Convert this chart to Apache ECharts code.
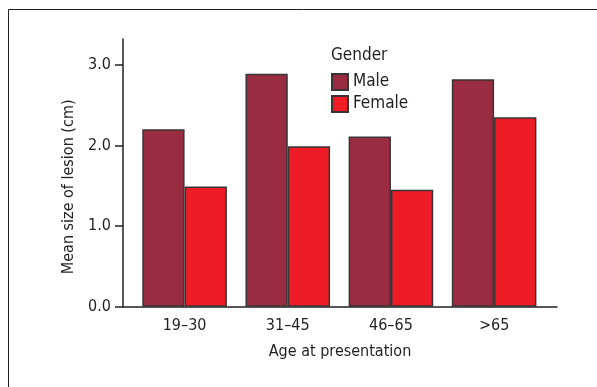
<!DOCTYPE html>
<html>
<head>
<meta charset="utf-8">
<script src="https://cdn.jsdelivr.net/npm/echarts@6/dist/echarts.min.js"></script>
<style>
  html, body { margin: 0; padding: 0; background: #fff; }
  #main { width: 597px; height: 387px; }
</style>
</head>
<body>
<div id="main"></div>
<script>
var categories = ['19\u201330', '31\u201345', '46\u201365', '>65'];
var maleValues = [2.20, 2.89, 2.11, 2.82];
var femaleValues = [1.49, 1.99, 1.45, 2.35];
var yTicks = [0, 1, 2, 3];

var font = "'Liberation Sans Narrow', 'DejaVu Sans Condensed', sans-serif";
var ink = '#231f20';

var options = {
    animation: false,
    title: {
        text: 'Gender',
        left: 331,
        top: 47,
        padding: 0,
        textStyle: { fontFamily: font, fontSize: 17, fontWeight: 'normal', color: ink }
    },
    legend: {
        data: ['Male', 'Female'],
        orient: 'vertical',
        left: 331,
        top: 73,
        padding: 0,
        itemWidth: 16,
        itemHeight: 16,
        itemGap: 4,
        icon: 'rect',
        textStyle: { fontFamily: font, fontSize: 17, color: ink, padding: [0, 0, 0, 0] }
    },
    graphic: [{
        type: 'rect',
        shape: { x: 8.5, y: 9.5, width: 700, height: 500 },
        style: { fill: 'none', stroke: ink, lineWidth: 1 }
    }],
    grid: [
        { left: 133, right: 51.3, top: 39, bottom: 80.3 },
        { left: 123, right: 40, top: 67, bottom: 80.3 }
    ],
    xAxis: [{
        type: 'category',
        gridIndex: 0,
        data: categories,
        axisLine: { show: false },
        axisTick: { show: false },
        axisLabel: { margin: 11, fontFamily: font, fontSize: 16, color: ink }
    }, {
        type: 'value',
        gridIndex: 1,
        min: 0,
        max: 1,
        splitLine: { show: false },
        axisTick: { show: false },
        axisLabel: { show: false },
        axisLine: { show: true, lineStyle: { color: ink, width: 1.5 } },
        name: 'Age at presentation',
        nameLocation: 'middle',
        nameGap: 37,
        nameTextStyle: { fontFamily: font, fontSize: 16, color: ink }
    }],
    yAxis: [{
        type: 'value',
        gridIndex: 0,
        min: 0,
        max: 3.32,
        offset: 10,
        splitLine: { show: false },
        axisLine: { show: true, lineStyle: { color: ink, width: 1.5 } },
        axisTick: { show: true, length: 8, customValues: yTicks, lineStyle: { color: ink, width: 1.5 } },
        axisLabel: {
            margin: 12,
            customValues: yTicks,
            fontFamily: font, fontSize: 16, color: ink,
            formatter: function (v) { return v.toFixed(1); }
        }
    }, {
        type: 'value',
        gridIndex: 1,
        min: 0,
        max: 1,
        splitLine: { show: false },
        axisLine: { show: false },
        axisTick: { show: false },
        axisLabel: { show: false },
        name: 'Mean size of lesion (cm)',
        nameLocation: 'middle',
        nameRotate: 90,
        nameGap: 46,
        nameTextStyle: { fontFamily: font, fontSize: 16, color: ink }
    }],
    series: [{
        name: 'Male',
        type: 'bar',
        xAxisIndex: 0,
        yAxisIndex: 0,
        data: maleValues,
        barWidth: '41%',
        barGap: '0%',
        itemStyle: { color: '#9a2c41', borderColor: '#3a3434', borderWidth: 1.5 }
    }, {
        name: 'Female',
        type: 'bar',
        xAxisIndex: 0,
        yAxisIndex: 0,
        data: femaleValues,
        barWidth: '41%',
        barGap: '0%',
        itemStyle: { color: '#ed1c27', borderColor: '#3a3434', borderWidth: 1.5 }
    }]
};

var chart = echarts.init(document.getElementById('main'));
chart.setOption(options);
</script>
</body>
</html>
